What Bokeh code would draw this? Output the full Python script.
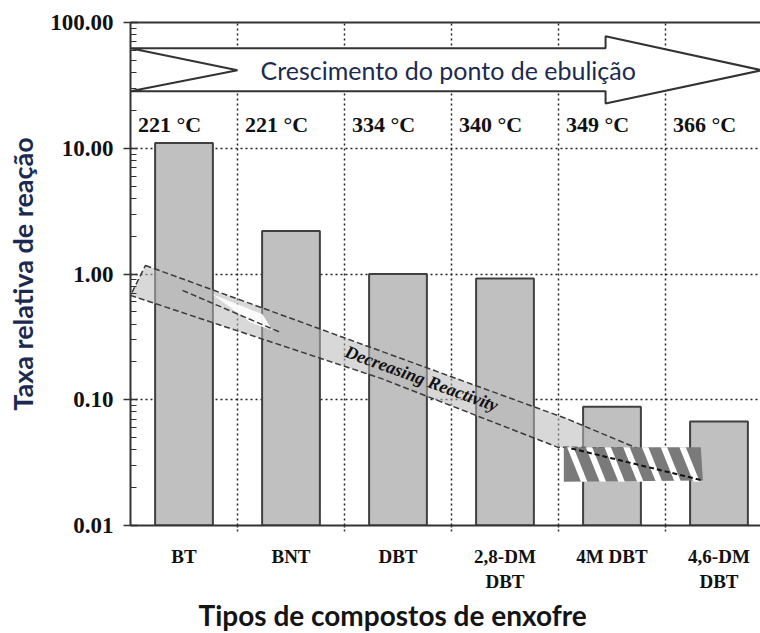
import numpy as np
from bokeh.plotting import figure
from bokeh.models import (Range1d, FixedTicker, NumeralTickFormatter, LinearAxis,
                          Title, ColumnDataSource)
from bokeh.core.properties import value
from bokeh.embed import file_html
from bokeh.resources import INLINE

# --- data -------------------------------------------------------------------
compounds = ["BT", "BNT", "DBT", "2,8-DM\nDBT", "4M DBT", "4,6-DM\nDBT"]
relative_rate = [11.0, 2.2, 1.0, 0.92, 0.088, 0.067]
boiling_point = ["221 °C", "221 °C", "334 °C", "340 °C", "349 °C", "366 °C"]

arrow_title = "Crescimento do ponto de ebulição"
trend_title = "Decreasing Reactivity"
y_title = "Taxa relativa de reação"
x_title = "Tipos de compostos de enxofre"

# white "boiling point" arrow outline (x in category units, y in rate units)
bp_arrow_x = [0.0, 4.44, 4.44, 5.90, 4.44, 4.44, 0.0, 1.0]
bp_arrow_y = [62.4, 62.4, 77.6, 41.7, 22.7, 28.4, 28.4, 41.7]

# grey "decreasing reactivity" band
trend_x = [0.14, 4.07, 4.74, 3.99, 2.34, 0.0]
trend_y = [1.17, 0.071, 0.041, 0.042, 0.148, 0.676]

# twist near the tail of the band
twist_x = [0.766, 1.234, 1.327, 1.121]
twist_y = [0.689, 0.478, 0.356, 0.412]
fold_x = [0.486, 1.402]
fold_y = [0.741, 0.343]

# dark striped head of the band
head_x = [4.05, 5.33, 5.35, 4.05]
head_y = [0.042, 0.042, 0.0228, 0.0223]

serif = "Liberation Serif"
sans = "Lato"
ink = "#1c2a4f"

n = len(compounds)
centers = [i + 0.5 for i in range(n)]

p = figure(width=760, height=633, y_axis_type="log",
           x_range=Range1d(0, 5.888), y_range=Range1d(0.01, 100),
           output_backend="svg", toolbar_location=None,
           min_border_left=130, min_border_right=0,
           min_border_top=22, min_border_bottom=108)
p.outline_line_color = None
p.background_fill_color = "white"
p.border_fill_color = "white"

# --- grid -------------------------------------------------------------------
p.xgrid.ticker = FixedTicker(ticks=[1, 2, 3, 4, 5])
p.ygrid.ticker = FixedTicker(ticks=[0.1, 1, 10])
for g in (p.xgrid, p.ygrid):
    g.grid_line_color = "#222222"
    g.grid_line_dash = "2 3"
    g.grid_line_width = 1.5

# --- axes -------------------------------------------------------------------
yax = p.yaxis[0]
yax.ticker = FixedTicker(ticks=[0.01, 0.1, 1, 10, 100],
                         minor_ticks=[k * 10.0 ** e for e in range(-2, 2) for k in range(2, 10)])
yax.formatter = NumeralTickFormatter(format="0.00")
yax.major_tick_out = 7
yax.major_tick_in = 7
yax.minor_tick_in = 6
yax.minor_tick_out = 0
yax.major_label_standoff = 10
yax.major_label_text_font = serif
yax.major_label_text_font_style = "bold"
yax.major_label_text_font_size = "23px"
yax.major_label_text_color = "#111111"
yax.axis_label = y_title
yax.axis_label_standoff = 8
yax.axis_label_text_font = sans
yax.axis_label_text_font_style = "bold"
yax.axis_label_text_font_size = "27px"
yax.axis_label_text_color = ink

xax = p.xaxis[0]
xax.ticker = FixedTicker(ticks=centers, minor_ticks=[1, 2, 3, 4, 5])
xax.major_label_overrides = {c: lab for c, lab in zip(centers, compounds)}
xax.major_tick_out = 0
xax.major_tick_in = 0
xax.minor_tick_out = 6
xax.minor_tick_in = 0
xax.minor_tick_line_dash = "2 2"
xax.minor_tick_line_width = 1.5
xax.major_label_standoff = 14
xax.major_label_text_font = serif
xax.major_label_text_font_style = "bold"
xax.major_label_text_font_size = "19px"
xax.major_label_text_color = "#111111"

for ax in (xax, yax):
    ax.axis_line_color = "#333333"
    ax.axis_line_width = 2
    ax.major_tick_line_color = "#333333"
    ax.major_tick_line_width = 1.5
    ax.minor_tick_line_color = "#333333"

top = LinearAxis(ticker=FixedTicker(ticks=[]), major_tick_line_color=None,
                 minor_tick_line_color=None, axis_line_color="#333333",
                 axis_line_width=2)
p.add_layout(top, "above")

# x axis title, shifted left of the frame centre
p.add_layout(Title(text=x_title, align="left", offset=68, standoff=2,
                   text_font=sans, text_font_style="bold",
                   text_font_size="28px", text_color="#141414"), "below")

# --- bars -------------------------------------------------------------------
src = ColumnDataSource(dict(x=centers, top=relative_rate, bp=boiling_point,
                            bx=[i + 0.07 for i in range(n)], by=[15.5] * n))
p.vbar(x="x", top="top", bottom=0.01, width=0.54, source=src,
       fill_color="#c0c0c0", line_color="#404040", line_width=2)

# boiling point labels
p.text(x="bx", y="by", text="bp", source=src, text_align="left",
       text_baseline="middle", text_font=value(serif), text_font_style="bold",
       text_font_size="22px", text_color="#111111")

# --- boiling point arrow ----------------------------------------------------
p.patch(bp_arrow_x, bp_arrow_y, fill_color="white", line_color="#333333", line_width=2)
p.text(x=[1.215], y=[41.7], text=[arrow_title], text_align="left",
       text_baseline="middle", text_font=value(sans), text_font_size="25px",
       text_color=ink)

# --- decreasing reactivity band --------------------------------------------
p.patch(trend_x, trend_y, fill_color="#b8b8b8", fill_alpha=0.55,
        line_color="#3a3a3a", line_dash="6 3", line_width=1.5)
p.patch(twist_x, twist_y, fill_color="white", fill_alpha=0.9, line_color=None)
p.line(fold_x, fold_y, line_color="#3a3a3a", line_dash="6 3", line_width=1.5)
p.patch(head_x, head_y, fill_color="#7a7a7a", line_color=None)

# white diagonal stripes on the head
stripe_xs, stripe_ys = [], []
y_top, y_bot = head_y[0], head_y[3]
for x0 in np.arange(4.08, 5.25, 0.175):
    stripe_xs.append([x0, x0 + 0.06, x0 + 0.06 + 0.13, x0 + 0.13])
    stripe_ys.append([y_top, y_top, y_bot, y_bot])
p.patches(stripe_xs, stripe_ys, fill_color="white", line_color=None)
p.line([4.12, 5.35], [0.041, 0.0228], line_color="#111111", line_dash="5 3", line_width=2)

p.text(x=[2.72], y=[0.1476], text=[trend_title], angle=-0.35,
       text_align="center", text_baseline="middle", text_font=value(serif),
       text_font_style="bold italic", text_font_size="18px", text_color="#111111")

open("out.html", "w").write(file_html(p, INLINE))
